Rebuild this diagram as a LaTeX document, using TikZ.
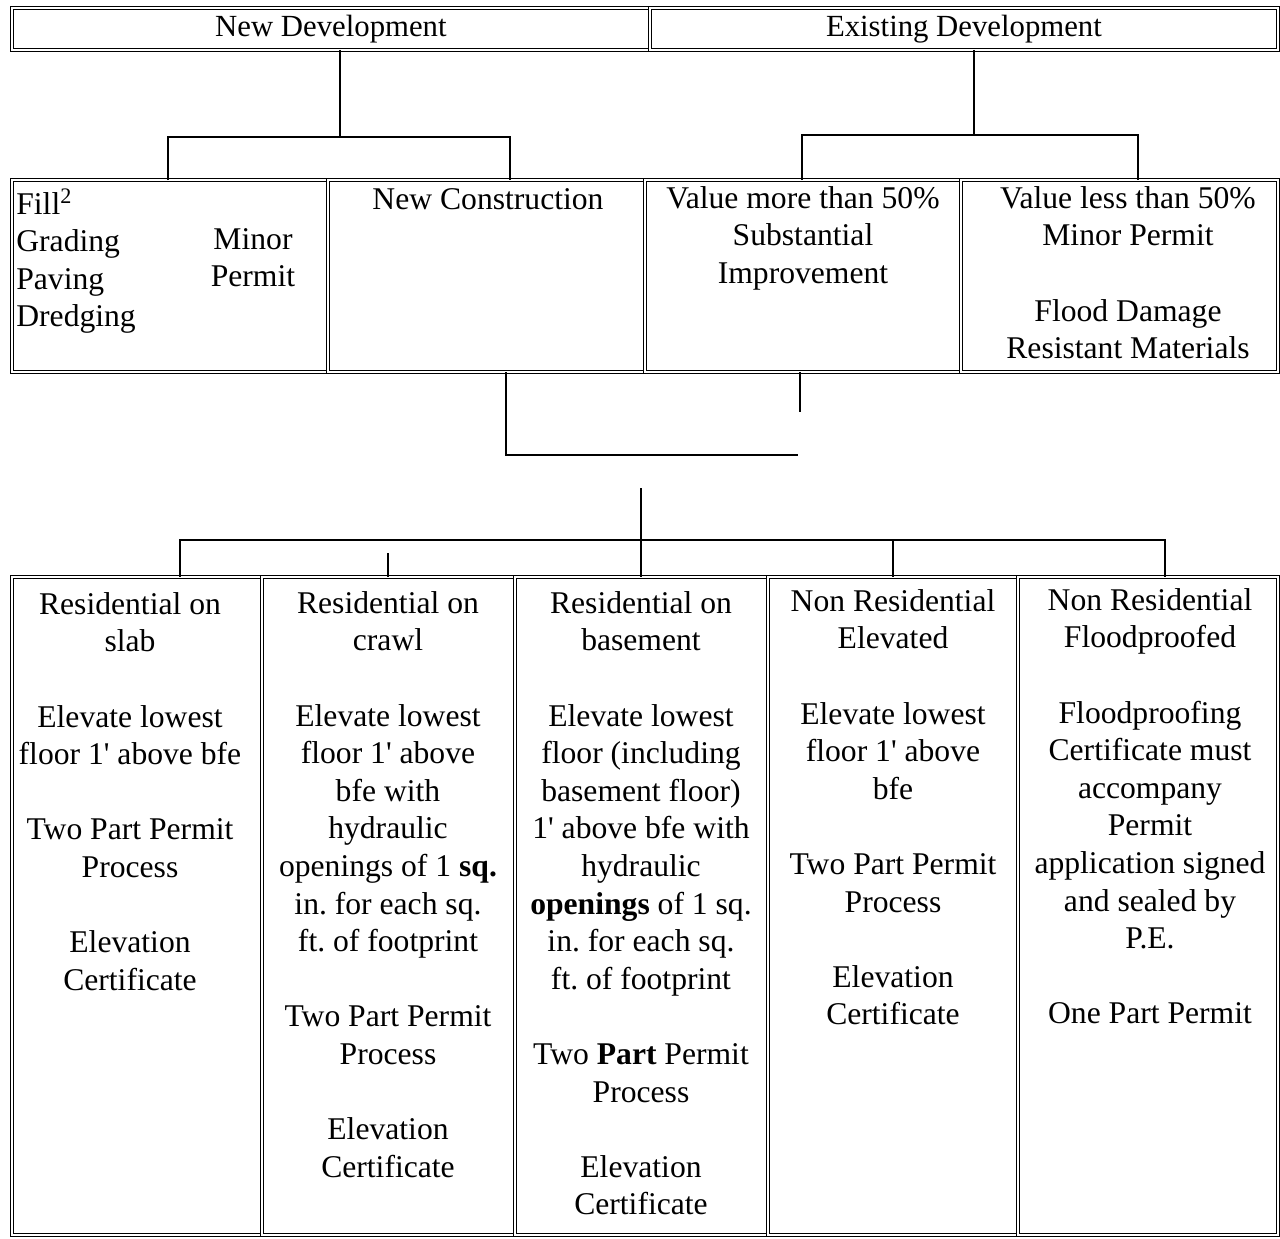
\documentclass[tikz,border=0pt]{standalone}
\usepackage{fontspec}
\setmainfont{Liberation Serif}
\usetikzlibrary{positioning}
\frenchspacing

\tikzset{
  cell/.style={draw, double, double distance=1.1pt, line width=.7pt, inner sep=0pt, outer sep=0pt, anchor=north west},
  txt/.style={font=\fontsize{18}{21.4}\selectfont, align=center, inner sep=0pt, anchor=north},
  link/.style={line width=.8pt},
}
\newcommand{\ft}{1\textquotesingle}

\begin{document}
\begin{tikzpicture}[x=0.02cm, y=-0.02cm]
	\useasboundingbox (0,0) rectangle (1280,1238);
	% top row
	\node[cell, minimum width=12.76cm, minimum height=0.84cm, font=\fontsize{17.5}{21}\selectfont] (newdev) at (12,8) {New Development};
	\node[cell, minimum width=12.56cm, minimum height=0.84cm, font=\fontsize{17.5}{21}\selectfont] (exdev) at (650,8) {Existing Development};
	% middle row
	\node[cell, minimum width=6.32cm, minimum height=3.84cm] (fill) at (12,180) {};
	\node[cell, minimum width=6.34cm, minimum height=3.84cm] (newcon) at (328,180) {};
	\node[cell, minimum width=6.32cm, minimum height=3.84cm] (more) at (645,180) {};
	\node[cell, minimum width=6.34cm, minimum height=3.84cm] (less) at (961,180) {};
	\node[txt, anchor=north west, align=left] (filltxt) at (16,188) {Fill\textsuperscript{2}\\Grading\\Paving\\Dredging};
	\node[txt] (minortxt) at (253,228) {Minor\\Permit};
	\node[txt] (newcontxt) at (488,188) {New Construction};
	\node[txt] (moretxt) at (803,186) {Value more than 50\%\\Substantial\\Improvement};
	\node[txt] (lesstxt) at (1128,186) {Value less than 50\%\\Minor Permit\\[21.4pt]Flood Damage\\Resistant Materials};
	% bottom row
	\node[cell, minimum width=5.00cm, minimum height=13.16cm] (slab) at (12,577) {};
	\node[cell, minimum width=5.06cm, minimum height=13.16cm] (crawl) at (262,577) {};
	\node[cell, minimum width=5.06cm, minimum height=13.16cm] (base) at (515,577) {};
	\node[cell, minimum width=5.00cm, minimum height=13.16cm] (nrelev) at (768,577) {};
	\node[cell, minimum width=5.20cm, minimum height=13.16cm] (nrflood) at (1018,577) {};
	\node[txt] (slabtxt) at (130,592) {Residential on\\slab\\[21.4pt]Elevate lowest\\floor \ft{} above bfe\\[21.4pt]Two Part Permit\\Process\\[21.4pt]Elevation\\Certificate};
	\node[txt] (crawltxt) at (388,591) {Residential on\\crawl\\[21.4pt]Elevate lowest\\floor \ft{} above\\bfe with\\hydraulic\\openings of 1 \textbf{sq.}\\in. for each sq.\\ft. of footprint\\[21.4pt]Two Part Permit\\Process\\[21.4pt]Elevation\\Certificate};
	\node[txt] (basetxt) at (641,591) {Residential on\\basement\\[21.4pt]Elevate lowest\\floor (including\\basement floor)\\\ft{} above bfe with\\hydraulic\\\textbf{openings} of 1 sq.\\in. for each sq.\\ft. of footprint\\[21.4pt]Two \textbf{Part} Permit\\Process\\[21.4pt]Elevation\\Certificate};
	\node[txt] (nrelevtxt) at (893,589) {Non Residential\\Elevated\\[21.4pt]Elevate lowest\\floor \ft{} above\\bfe\\[21.4pt]Two Part Permit\\Process\\[21.4pt]Elevation\\Certificate};
	\node[txt] (nrfloodtxt) at (1150,588) {Non Residential\\Floodproofed\\[21.4pt]Floodproofing\\Certificate must\\accompany\\Permit\\application signed\\and sealed by\\P.E.\\[21.4pt]One Part Permit};
	% connectors
	\coordinate (nd) at (340,137);
	\coordinate (ndl) at (168,137);
	\coordinate (ndr) at (510,137);
	\draw[link] (nd |- newdev.south) -- (nd);
	\draw[link] (ndl |- fill.north) -- (ndl) -- (ndr) -- (ndr |- newcon.north);
	\coordinate (ed) at (974,135);
	\coordinate (edl) at (802,135);
	\coordinate (edr) at (1138,135);
	\draw[link] (ed |- exdev.south) -- (ed);
	\draw[link] (edl |- more.north) -- (edl) -- (edr) -- (edr |- less.north);
	\coordinate (ml) at (506,455);
	\coordinate (mr) at (798,455);
	\coordinate (ms) at (800,412);
	\draw[link, line width=1.1pt] (ml |- newcon.south) -- (ml) -- (mr);
	\draw[link] (ms |- more.south) -- (ms);
	\coordinate (tp) at (641,488);
	\coordinate (bl) at (180,540);
	\coordinate (br) at (1165,540);
	\coordinate (b4) at (893,540);
	\coordinate (b2) at (388,553);
	\draw[link] (tp) -- (tp |- base.north);
	\draw[link] (bl |- slab.north) -- (bl) -- (br) -- (br |- nrflood.north);
	\draw[link] (b4) -- (b4 |- nrelev.north);
	\draw[link] (b2) -- (b2 |- crawl.north);
\end{tikzpicture}
\end{document}
